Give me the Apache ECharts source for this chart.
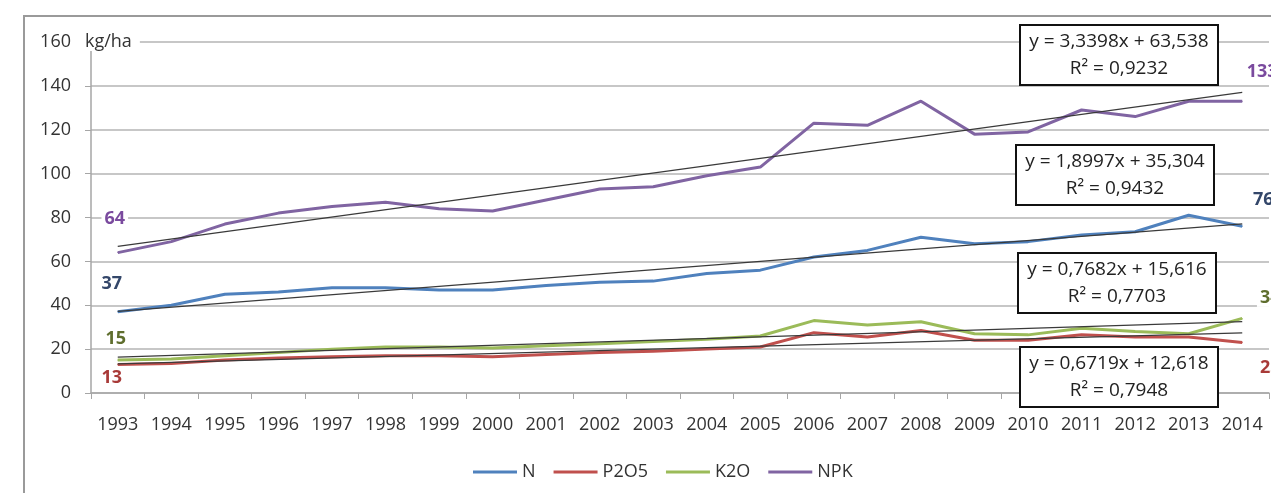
<!DOCTYPE html>
<html>
<head>
<meta charset="utf-8">
<script src="https://cdn.jsdelivr.net/npm/echarts@6/dist/echarts.min.js"></script>
<style>
  html, body { margin: 0; padding: 0; background: #fff; }
  #chart { width: 1271px; height: 493px; }
</style>
</head>
<body>
<div id="chart"></div>
<script>
const years = ['1993','1994','1995','1996','1997','1998','1999','2000','2001','2002','2003','2004','2005','2006','2007','2008','2009','2010','2011','2012','2013','2014'];
const seriesNames = ['N', 'P2O5', 'K2O', 'NPK'];
const nValues    = [37, 40, 45, 46, 48, 48, 47, 47, 49, 50.5, 51, 54.5, 56, 62, 65, 71, 68, 69, 72, 73.5, 81, 76];
const p2o5Values = [13, 13.5, 15, 16, 16.5, 17, 17, 16.5, 17.5, 18.5, 19, 20, 21, 27.5, 25.5, 28.5, 24, 24, 26.5, 25.5, 25.5, 23];
const k2oValues  = [15, 15.5, 17, 18.5, 20, 21, 21, 20.5, 21.5, 22.5, 23.5, 24.5, 26, 33, 31, 32.5, 27, 26.5, 29.5, 28, 27, 34];
const npkValues  = [64, 69, 77, 82, 85, 87, 84, 83, 88, 93, 94, 99, 103, 123, 122, 133, 118, 119, 129, 126, 133, 133];
const trendSlopes     = [1.8997, 0.6719, 0.7682, 3.3398];
const trendIntercepts = [35.304, 12.618, 15.616, 63.538];
const equationTexts = [
  ['y = 1,8997x + 35,304', 'R\u00B2 = 0,9432'],
  ['y = 0,6719x + 12,618', 'R\u00B2 = 0,7948'],
  ['y = 0,7682x + 15,616', 'R\u00B2 = 0,7703'],
  ['y = 3,3398x + 63,538', 'R\u00B2 = 0,9232']
];
const yTicks = [0, 20, 40, 60, 80, 100, 120, 140, 160];
const unitLabel = 'kg/ha';

const FONT = 'Open Sans';
const lineColors  = ['#4f81bd', '#c0504d', '#9bbb59', '#8064a2'];
const labelColors = ['#34476a', '#a83a38', '#5f6e2e', '#7a4a9e'];
// label shifts (layout only): [dx, dy] relative to default position
const firstLabel = [
  { position: 'top', shift: [-6, -13] },
  { position: 'bottom', shift: [-6, -1] },
  { position: 'top', shift: [-2, -7] },
  { position: 'top', shift: [-3, -19] }
];
const lastLabel = [
  { position: 'top', shift: [21, -12] },
  { position: 'bottom', shift: [28, 11] },
  { position: 'top', shift: [28, -6] },
  { position: 'top', shift: [20, -15] }
];
const allValues = [nValues, p2o5Values, k2oValues, npkValues];
const boxPos = [
  { x: 1016, y: 145 },
  { x: 1020, y: 347 },
  { x: 1018, y: 253 },
  { x: 1020, y: 25 }
];

function buildData(vals, i) {
  return vals.map(function (v, k) {
    if (k === 0 || k === vals.length - 1) {
      const p = k === 0 ? firstLabel[i] : lastLabel[i];
      return {
        value: v,
        label: {
          show: true, position: p.position,
          color: labelColors[i], fontFamily: FONT, fontSize: 18, fontWeight: 'bold',
          backgroundColor: '#fff', padding: [0, 3],
          formatter: function (d) { return String(Math.round(d.value)); }
        }
      };
    }
    return v;
  });
}

const series = seriesNames.map(function (name, i) {
  const n = years.length;
  return {
    name: name,
    type: 'line',
    data: buildData(allValues[i], i),
    symbol: 'circle',
    symbolSize: 1,
    showSymbol: true,
    z: 2 + i,
    lineStyle: { color: lineColors[i], width: 3 },
    itemStyle: { color: lineColors[i] },
    labelLayout: function (params) {
      const p = params.dataIndex === 0 ? firstLabel[i] : lastLabel[i];
      return { dx: p.shift[0], dy: p.shift[1], hideOverlap: false };
    },
    markLine: {
      silent: true,
      symbol: ['none', 'none'],
      label: { show: false },
      lineStyle: { color: '#3a3a3a', width: 1.2, type: 'solid' },
      data: [[
        { coord: [0, trendSlopes[i] * 1 + trendIntercepts[i]] },
        { coord: [n - 1, trendSlopes[i] * n + trendIntercepts[i]] }
      ]],
      z: 10
    }
  };
});

const graphics = [
  {
    type: 'rect', silent: true, z: -1,
    shape: { x: 24, y: 16, width: 1400, height: 600 },
    style: { fill: 'none', stroke: '#9a9a9a', lineWidth: 2 }
  },
  {
    type: 'text', left: 85, top: 33, z: 100,
    style: {
      text: unitLabel, fill: '#333', font: '18px "' + FONT + '"',
      backgroundColor: '#fff', padding: [0, 8, 0, 0]
    }
  }
];
equationTexts.forEach(function (t, i) {
  const bp = boxPos[i];
  graphics.push({
    type: 'rect', z: 100,
    shape: { x: bp.x, y: bp.y, width: 198, height: 60 },
    style: { fill: '#fff', stroke: '#111', lineWidth: 2 }
  });
  graphics.push({
    type: 'text', z: 101, x: bp.x + 99, y: bp.y + 30,
    style: { text: t[0] + '\n' + t[1], fill: '#222', font: '19px "' + FONT + '"',
             align: 'center', verticalAlign: 'middle', lineHeight: 27 }
  });
});

const chart = echarts.init(document.getElementById('chart'), null, { renderer: 'canvas' });
chart.setOption({
  animation: false,
  backgroundColor: '#fff',
  textStyle: { fontFamily: FONT },
  grid: { left: 91, right: 2, top: 42, bottom: 100, containLabel: false },
  legend: {
    data: seriesNames.map(function (s) { return { name: s, icon: 'rect' }; }),
    left: 468, top: 458,
    itemWidth: 44, itemHeight: 3, itemGap: 18,
    textStyle: { fontFamily: FONT, fontSize: 18, color: '#333' }
  },
  xAxis: {
    type: 'category',
    data: years,
    boundaryGap: true,
    axisLine: { lineStyle: { color: '#a6a6a6', width: 1.5 } },
    axisTick: { show: true, length: 6, lineStyle: { color: '#a6a6a6' } },
    axisLabel: { fontFamily: FONT, fontSize: 18, color: '#333', margin: 23, interval: 0 }
  },
  yAxis: {
    type: 'value',
    min: yTicks[0], max: yTicks[yTicks.length - 1], interval: 20,
    axisLine: { show: true, lineStyle: { color: '#a6a6a6', width: 1.5 } },
    axisTick: { show: true, length: 6, lineStyle: { color: '#a6a6a6' } },
    splitLine: { lineStyle: { color: '#b4b4b4', width: 1.5 } },
    axisLabel: { fontFamily: FONT, fontSize: 18, color: '#333', margin: 20 }
  },
  graphic: graphics,
  series: series
});
</script>
</body>
</html>
